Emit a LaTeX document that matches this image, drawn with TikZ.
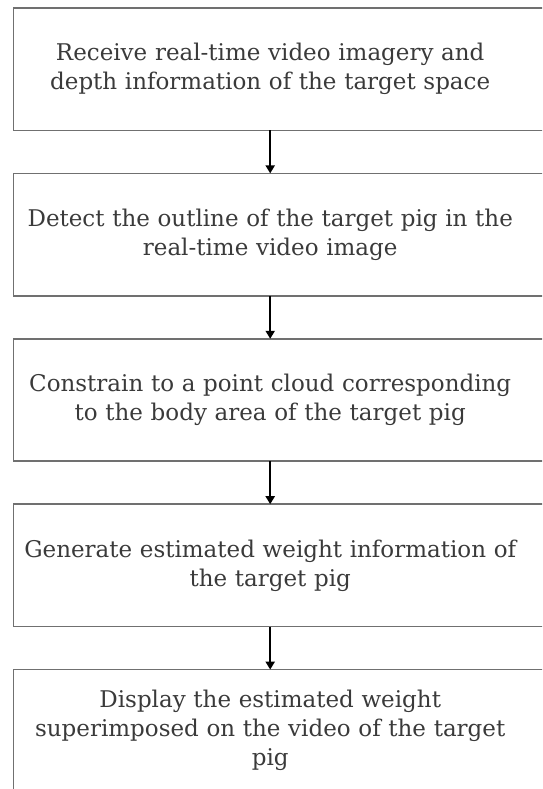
\documentclass[tikz,border=0pt]{standalone}
\usepackage{fontspec}
\setmainfont{DejaVu Serif}
\usepackage{tikz}
\usetikzlibrary{arrows.meta,positioning}
\definecolor{txtgray}{HTML}{3A3A3A}
\definecolor{linegray}{HTML}{707070}
\tikzset{
  stepbox/.style ={align=center, text width=510pt, minimum width=513pt, minimum height=122pt, inner sep=0pt, font=\fontsize{23}{29}\selectfont, text=txtgray},
  frame/.style   ={draw=linegray, line width=1.6pt},
  arr/.style     ={-{Triangle[length=8pt,width=9pt]}, line width=2pt},
}
\begin{document}
\begin{tikzpicture}[node distance=43pt]
  \clip (0,0) rectangle (542pt,-789pt);
  \node[stepbox, anchor=north west] (recv) at (13.5pt,-8pt) {Receive real-time video imagery and\\depth information of the target space};
  \node[stepbox, below=of recv] (detect) {Detect the outline of the target pig in the\\real-time video image};
  \node[stepbox, below=of detect] (constrain) {Constrain to a point cloud corresponding\\to the body area of the target pig};
  \node[stepbox, below=of constrain] (weight) {Generate estimated weight information of\\the target pig};
  \node[stepbox, below=of weight] (display) {Display the estimated weight\\superimposed on the video of the target\\pig};
  % box outlines run off the right edge
  \foreach \n in {recv,detect,constrain,weight,display}
    \draw[frame] (\n.north west) rectangle ([xshift=40pt]\n.south east);
  \draw[arr] (recv) -- (detect);
  \draw[arr] (detect) -- (constrain);
  \draw[arr] (constrain) -- (weight);
  \draw[arr] (weight) -- (display);
\end{tikzpicture}
\end{document}
